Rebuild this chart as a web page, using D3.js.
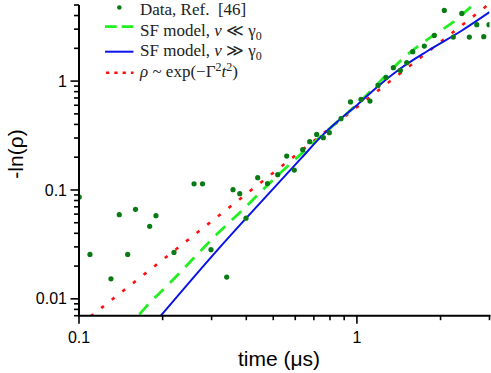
<!DOCTYPE html>
<html>
<head>
<meta charset="utf-8">
<script src="https://d3js.org/d3.v7.min.js"></script>
<style>
  body { margin: 0; background: #fff; }
  svg { display: block; }
</style>
</head>
<body>
<script>
// measured data, -ln(rho) vs time (us)
var dataT = [0.1002, 0.1095, 0.1303, 0.1396, 0.1497, 0.1597, 0.1796, 0.1892, 0.2197, 0.2594,
             0.2782, 0.2985, 0.340, 0.3582, 0.3788, 0.399, 0.4396, 0.4768, 0.5188, 0.559,
             0.5952, 0.6383, 0.6764, 0.7166, 0.757, 0.7956, 0.8766, 0.9484, 1.0345, 1.1146,
             1.191, 1.273, 1.352, 1.433, 1.511, 1.588, 1.748, 1.899, 2.063, 2.223,
             2.384, 2.538, 2.699, 2.86, 2.988];
var dataY = [0.0861, 0.0256, 0.01527, 0.0593, 0.0256, 0.0664, 0.0463, 0.0581, 0.0267, 0.1138,
             0.1138, 0.0283, 0.01585, 0.1006, 0.0925, 0.0551, 0.1297, 0.1145, 0.1382, 0.2048,
             0.1523, 0.2344, 0.2777, 0.324, 0.302, 0.336, 0.4515, 0.644, 0.679, 0.655,
             0.913, 1.081, 1.328, 1.254, 1.476, 1.862, 2.096, 2.629, 4.46, 2.535,
             4.18, 2.535, 3.296, 2.557, 3.296];

// SF model, v << gamma0 (green dashed)
var slowT = [0.165, 0.174, 0.2157, 0.2687, 0.313, 0.390, 0.480, 0.599, 0.768, 1.0, 1.575, 1.91, 2.22, 2.59, 2.62];
var slowY = [0.0072, 0.0084, 0.01457, 0.0262, 0.0391, 0.0664, 0.1125, 0.191, 0.336, 0.61, 1.886, 2.69, 3.48, 4.88, 5.0];

// SF model, v >> gamma0 (blue solid)
var fastT = [0.197, 0.309, 0.399, 0.633, 0.757, 0.869, 1.0, 1.18, 1.43, 1.8, 2.38, 3.0];
var fastY = [0.007, 0.0266, 0.0549, 0.198, 0.324, 0.445, 0.6, 0.88, 1.3, 1.9, 2.9, 4.3];

// rho ~ exp(-Gamma^2 t^2) (red dotted)
var gaussT = [0.11, 0.1207, 0.2904, 1.085, 2.873, 3.0];
var gaussY = [0.0069, 0.0083, 0.0483, 0.679, 4.72, 5.15];

var xTicks = [0.1, 1];
var yTicks = [0.01, 0.1, 1];

var W = 491, H = 373;
var margin = {left: 79, top: 5, right: 1.5, bottom: 57.3};
var iw = W - margin.left - margin.right,
    ih = H - margin.top - margin.bottom;

var svg = d3.select("body").append("svg")
    .attr("width", W).attr("height", H);

var g = svg.append("g")
    .attr("transform", "translate(" + margin.left + "," + margin.top + ")");

var x = d3.scaleLog().domain([0.1, 3]).range([0, iw]);
var y = d3.scaleLog().domain([0.007, 5]).range([ih, 0]);

g.append("clipPath").attr("id", "clip")
  .append("rect").attr("width", iw).attr("height", ih);

var plot = g.append("g").attr("clip-path", "url(#clip)");

function pairs(a, b) { return a.map(function (v, i) { return [v, b[i]]; }); }

var line = d3.line()
    .x(function (d) { return x(d[0]); })
    .y(function (d) { return y(d[1]); })
    .curve(d3.curveMonotoneX);

plot.append("path").datum(pairs(gaussT, gaussY))
    .attr("d", line).attr("fill", "none")
    .attr("stroke", "#ff1010").attr("stroke-width", 2.6)
    .attr("stroke-dasharray", "3.5,10");

plot.append("path").datum(pairs(slowT, slowY))
    .attr("d", line).attr("fill", "none")
    .attr("stroke", "#22ee22").attr("stroke-width", 2.8)
    .attr("stroke-dasharray", "13,9");

plot.append("path").datum(pairs(fastT, fastY))
    .attr("d", line).attr("fill", "none")
    .attr("stroke", "#0a14e6").attr("stroke-width", 2);

plot.selectAll("circle.pt").data(pairs(dataT, dataY))
  .enter().append("circle")
    .attr("class", "pt")
    .attr("cx", function (d) { return x(d[0]); })
    .attr("cy", function (d) { return y(d[1]); })
    .attr("r", 2.6)
    .attr("fill", "#0a7a14");

// minor tick values
function minors(lo, hi) {
  var out = [];
  for (var e = -3; e <= 1; e++) {
    for (var m = 1; m <= 9; m++) {
      var v = m * Math.pow(10, e);
      if (v >= lo * 0.999 && v <= hi * 1.001) out.push(v);
    }
  }
  return out;
}

var xAxis = g.append("g").attr("transform", "translate(0," + ih + ")");
var xMin = minors(0.1, 3).filter(function (v) {
  return xTicks.every(function (t) { return Math.abs(t - v) > 1e-9; });
});
xAxis.selectAll("line.mn").data(xMin).enter().append("line")
    .attr("x1", x).attr("x2", x).attr("y1", 0).attr("y2", 4.5)
    .attr("stroke", "#000").attr("stroke-width", 1.6);
xAxis.selectAll("line.mj").data(xTicks).enter().append("line")
    .attr("x1", x).attr("x2", x).attr("y1", 0).attr("y2", 8)
    .attr("stroke", "#000").attr("stroke-width", 1.6);
xAxis.append("line").attr("x1", -1).attr("x2", iw + 1)
    .attr("stroke", "#000").attr("stroke-width", 2);
xAxis.selectAll("text").data(xTicks).enter().append("text")
    .attr("x", x).attr("y", 27)
    .attr("text-anchor", "middle")
    .style("font-family", "Liberation Sans, Arial, sans-serif")
    .style("font-size", "16px")
    .text(function (d) { return d; });

var yAxis = g.append("g");
var yMin = minors(0.007, 5).filter(function (v) {
  return yTicks.every(function (t) { return Math.abs(t - v) > 1e-9; });
});
yAxis.selectAll("line.mn").data(yMin).enter().append("line")
    .attr("y1", y).attr("y2", y).attr("x1", 0).attr("x2", -5)
    .attr("stroke", "#000").attr("stroke-width", 1.6);
yAxis.selectAll("line.mj").data(yTicks).enter().append("line")
    .attr("y1", y).attr("y2", y).attr("x1", 0).attr("x2", -8.5)
    .attr("stroke", "#000").attr("stroke-width", 1.6);
yAxis.append("line").attr("y1", 0).attr("y2", ih + 1)
    .attr("stroke", "#000").attr("stroke-width", 2);
yAxis.selectAll("text").data(yTicks).enter().append("text")
    .attr("x", -12).attr("y", y).attr("dy", "0.35em")
    .attr("text-anchor", "end")
    .style("font-family", "Liberation Sans, Arial, sans-serif")
    .style("font-size", "16px")
    .text(function (d) { return d; });

svg.append("text")
    .attr("x", 279).attr("y", 366)
    .attr("text-anchor", "middle")
    .style("font-family", "Liberation Sans, Arial, sans-serif")
    .style("font-size", "21px")
    .text("time (\u03bcs)");

svg.append("text")
    .attr("transform", "translate(23,154) rotate(-90)")
    .attr("text-anchor", "middle")
    .style("font-family", "Liberation Sans, Arial, sans-serif")
    .style("font-size", "21px")
    .text("-ln(\u03c1)");

// legend
var leg = svg.append("g")
    .style("font-family", "Liberation Serif, Times New Roman, serif")
    .style("font-size", "17px")
    .attr("fill", "#222");

leg.append("circle").attr("cx", 119.3).attr("cy", 7.5).attr("r", 2.3).attr("fill", "#0a7a14");
leg.append("line").attr("x1", 105).attr("x2", 133.5).attr("y1", 26.7).attr("y2", 26.7)
    .attr("stroke", "#22ee22").attr("stroke-width", 2.8).attr("stroke-dasharray", "11.7,5");
leg.append("line").attr("x1", 105).attr("x2", 133.5).attr("y1", 51.7).attr("y2", 51.7)
    .attr("stroke", "#0a14e6").attr("stroke-width", 2);
leg.append("line").attr("x1", 106).attr("x2", 133.5).attr("y1", 72.7).attr("y2", 72.7)
    .attr("stroke", "#ff1010").attr("stroke-width", 2.6).attr("stroke-dasharray", "3.3,5");

leg.append("text").attr("x", 140).attr("y", 15).text("Data, Ref.\u00a0\u00a0[46]");

var t2 = leg.append("text").attr("x", 140).attr("y", 35.5);
t2.append("tspan").text("SF model, ");
t2.append("tspan").style("font-style", "italic").text("v");
t2.append("tspan").text(" \u226a \u03b3");
t2.append("tspan").attr("dy", 4).style("font-size", "12px").text("0");

var t3 = leg.append("text").attr("x", 140).attr("y", 56);
t3.append("tspan").text("SF model, ");
t3.append("tspan").style("font-style", "italic").text("v");
t3.append("tspan").text(" \u226b \u03b3");
t3.append("tspan").attr("dy", 4).style("font-size", "12px").text("0");

var t4 = leg.append("text").attr("x", 140).attr("y", 76.5);
t4.append("tspan").style("font-style", "italic").text("\u03c1");
t4.append("tspan").text(" ~ exp(\u2212\u0393");
t4.append("tspan").attr("dy", -6).style("font-size", "12px").text("2");
t4.append("tspan").attr("dy", 6).style("font-style", "italic").text("t");
t4.append("tspan").attr("dy", -6).style("font-size", "12px").text("2");
t4.append("tspan").attr("dy", 6).text(")");
</script>
</body>
</html>
